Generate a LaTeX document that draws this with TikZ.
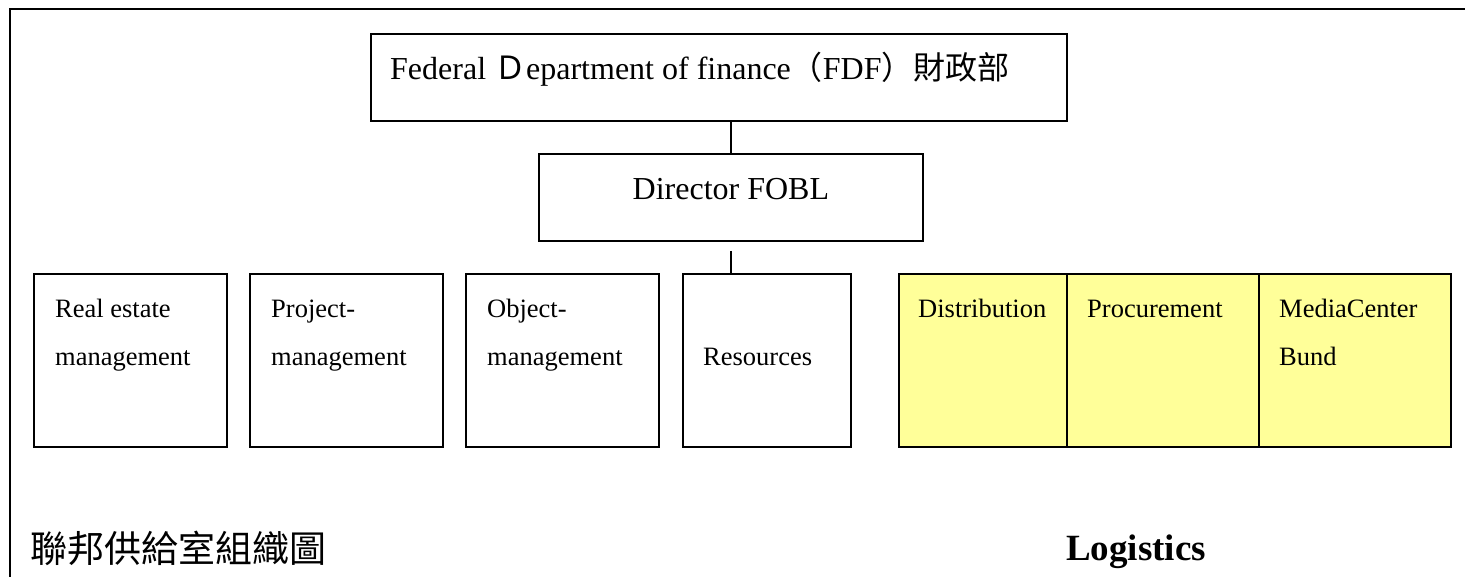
\documentclass[tikz,border=0pt]{standalone}
\usepackage{fontspec}
\setmainfont{Liberation Serif}
\newfontfamily\cjk{Noto Sans CJK TC}
\usepackage{tikz}
\usepackage{color}
\definecolor{unitYellow}{RGB}{255,255,153}

\begin{document}
\begin{tikzpicture}[x=1pt,y=-1pt,
    every node/.style={inner sep=0pt},
    unit/.style={draw=black,line width=1.8pt,fill=white,anchor=north west},
    logunit/.style={unit,fill=unitYellow},
    topfont/.style={font=\fontsize{32}{38}\selectfont},
    unitfont/.style={font=\fontsize{26.5}{48}\selectfont,align=left,anchor=base west}]
            \useasboundingbox (0,0) rectangle (1465,577);
            % frame
            \coordinate (frameTL) at (10,9);
            \draw [black,line width=2.4pt] (1466,9) -- (frameTL) -- (10,578);
            % top of the chart
            \node [unit,minimum width=696pt,minimum height=87pt] (fdf) at (370,33) {};
            \node [topfont,anchor=base west] (fdfText) at ([shift={(20,47)}]fdf.north west)
                {Federal {\cjk Ｄ}epartment of finance{\cjk （}FDF{\cjk ）財政部}};
            \node [unit,minimum width=384pt,minimum height=87pt] (director) at (538,153) {};
            \node [topfont,anchor=base] (directorText) at ([yshift=-47pt]director.north) {Director FOBL};
            \draw [black,line width=1.8pt] (director.north) -- (director.north |- fdf.south);
            % units
            \node [unit,minimum width=193pt,minimum height=173pt] (realEstate) at (33,273) {};
            \node [unit,minimum width=193pt,minimum height=173pt] (projectMgmt) at (249,273) {};
            \node [unit,minimum width=193pt,minimum height=173pt] (objectMgmt) at (465,273) {};
            \node [unit,minimum width=168pt,minimum height=173pt] (resources) at (682,273) {};
            \node [logunit,minimum width=193pt,minimum height=173pt] (distribution) at (898,273) {};
            \node [logunit,minimum width=192pt,minimum height=173pt] (procurement) at (1066,273) {};
            \node [logunit,minimum width=192pt,minimum height=173pt] (mediaCenter) at (1258,273) {};
            \coordinate (dirDrop) at ([yshift=-9pt]director.south);
            \draw [black,line width=1.8pt] (dirDrop) -- (dirDrop |- resources.north);
            % unit labels (base = last line)
            \node [unitfont] (realEstateText) at ([shift={(22,93)}]realEstate.north west) {Real estate\\management};
            \node [unitfont] (projectText) at ([shift={(22,93)}]projectMgmt.north west) {Project-\\management};
            \node [unitfont] (objectText) at ([shift={(22,93)}]objectMgmt.north west) {Object-\\management};
            \node [unitfont] (resourcesText) at ([shift={(21,93)}]resources.north west) {Resources};
            \node [unitfont] (distributionText) at ([shift={(20,45)}]distribution.north west) {Distribution};
            \node [unitfont] (procurementText) at ([shift={(21,45)}]procurement.north west) {Procurement};
            \node [unitfont] (mediaCenterText) at ([shift={(21,93)}]mediaCenter.north west) {MediaCenter\\Bund};
            % captions
            \node [font=\fontsize{37}{40}\selectfont\cjk,anchor=base west] (chartTitle) at (30,562) {聯邦供給室組織圖};
            \node [font=\fontsize{37}{40}\selectfont\bfseries,anchor=base west] (logistics) at (1066,560) {Logistics};
\end{tikzpicture}
\end{document}
